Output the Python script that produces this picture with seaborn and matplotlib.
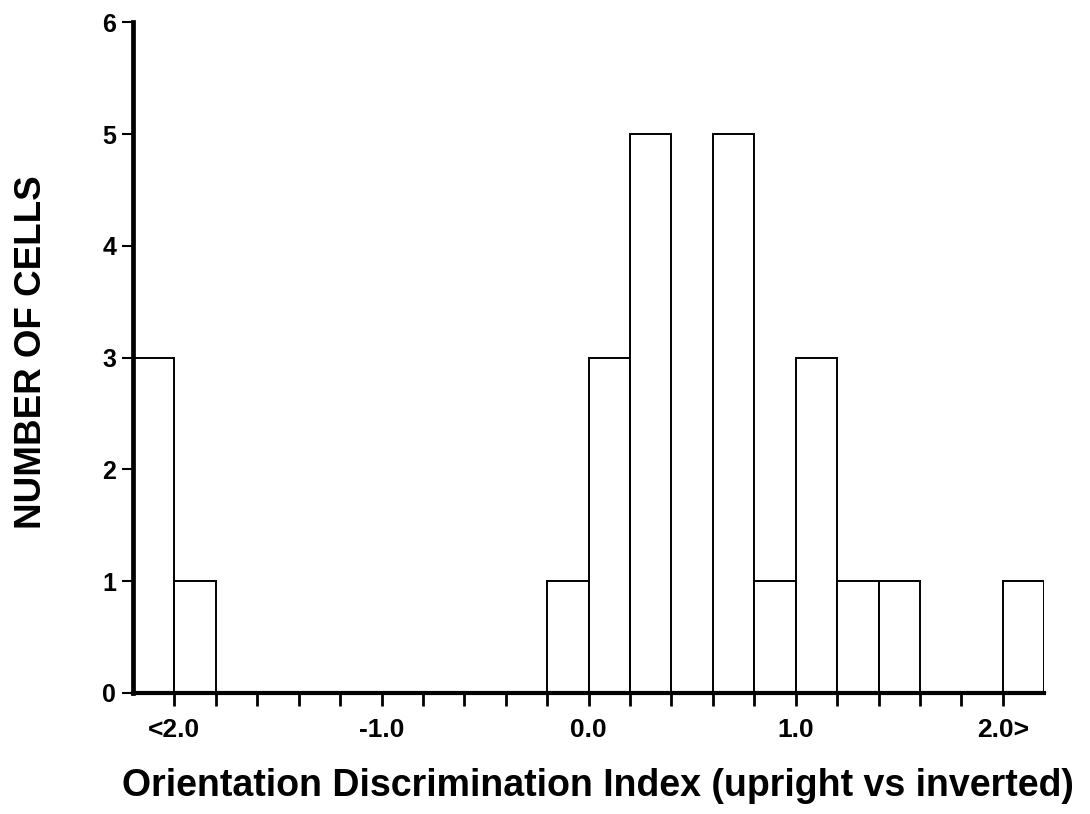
import numpy as np
import pandas as pd
import matplotlib
matplotlib.use("Agg")
import matplotlib.pyplot as plt
import seaborn as sns

# Histogram of the orientation discrimination index (bins of width 0.2)
bin_edges = [-2.2, -2.0, -1.8, -1.6, -1.4, -1.2, -1.0, -0.8, -0.6, -0.4, -0.2,
             0.0, 0.2, 0.4, 0.6, 0.8, 1.0, 1.2, 1.4, 1.6, 1.8, 2.0, 2.2]
cell_counts = [3, 1, 0, 0, 0, 0, 0, 0, 0, 0, 1,
               3, 5, 0, 5, 1, 3, 1, 1, 0, 0, 1]
x_tick_values = [-2.0, -1.0, 0.0, 1.0, 2.0]
x_tick_labels = ["<2.0", "-1.0", "0.0", "1.0", "2.0>"]
y_tick_values = [0, 1, 2, 3, 4, 5, 6]

edges = np.array(bin_edges)
centers = (edges[:-1] + edges[1:]) / 2
df = pd.DataFrame({"index": centers, "count": cell_counts})

sns.set_theme(style="ticks")
plt.rcParams["font.family"] = ["Liberation Sans", "DejaVu Sans"]
plt.rcParams["font.weight"] = "bold"
plt.rcParams["text.color"] = "black"
plt.rcParams["axes.labelcolor"] = "black"
plt.rcParams["xtick.color"] = "black"
plt.rcParams["ytick.color"] = "black"
plt.rcParams["axes.edgecolor"] = "black"

fig = plt.figure(figsize=(10.9, 8.14), dpi=100)
ax = fig.add_axes([0.122, 0.1487, 0.836, 0.824])

sns.histplot(data=df, x="index", weights="count", bins=list(bin_edges), ax=ax,
             color="white", edgecolor="black", linewidth=1.4, alpha=1.0)

ax.set_xlim(-2.2, 2.2)
ax.set_ylim(0, 6)

ax.spines["top"].set_visible(False)
ax.spines["right"].set_visible(False)
ax.spines["left"].set_linewidth(3.4)
ax.spines["bottom"].set_linewidth(3.0)

ax.set_xticks(x_tick_values)
ax.set_xticklabels(x_tick_labels, fontsize=19, fontweight="bold")
ax.set_xticks(np.round(np.arange(-2.0, 2.01, 0.2), 1), minor=True)
ax.tick_params(axis="x", which="both", direction="out", length=9, width=2.0,
               color="black", pad=9)
ax.set_yticks(y_tick_values)
ax.set_yticklabels([str(v) for v in y_tick_values], fontsize=18, fontweight="bold")
ax.tick_params(axis="y", direction="out", length=8, width=1.5, color="black", pad=4)

ax.set_xlabel("Orientation Discrimination Index (upright vs inverted)",
              fontsize=27, fontweight="bold")
ax.set_ylabel("NUMBER OF CELLS", fontsize=26.5, fontweight="bold")
# place the axis titles in axes coordinates
ax.xaxis.set_label_coords(0.51, -0.1125)
ax.yaxis.set_label_coords(-0.092, 0.5075)

fig.savefig("out.png", dpi=100, facecolor="white")
